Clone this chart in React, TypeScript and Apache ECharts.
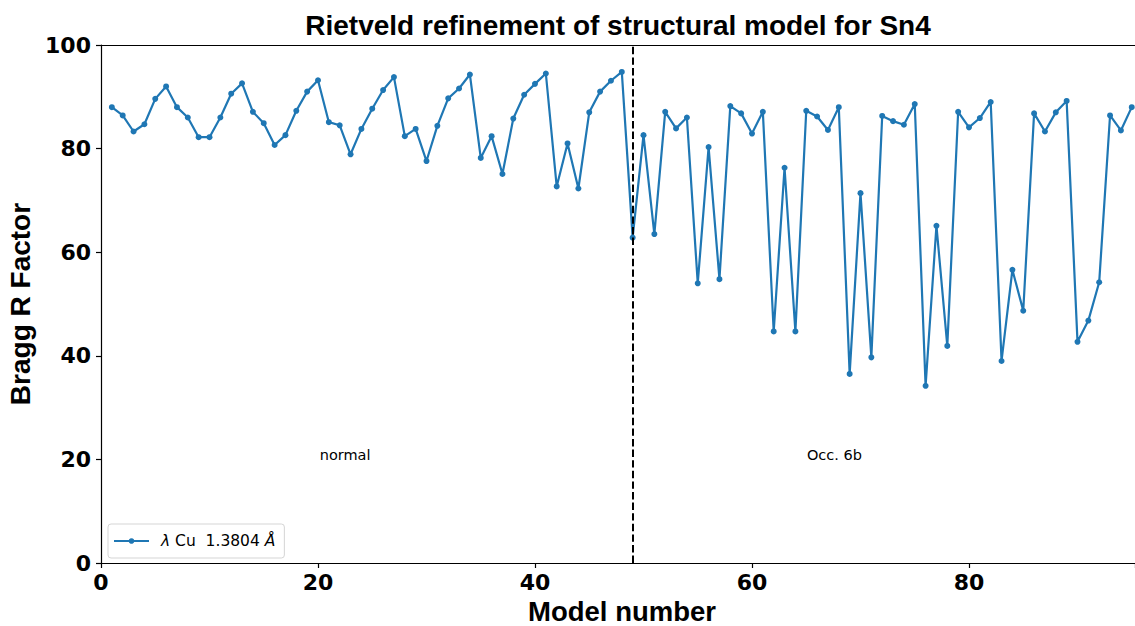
import React, { useEffect, useRef } from "react";
import * as echarts from "echarts";

const modelNumbers: number[] = [
  1, 2, 3, 4, 5, 6, 7, 8, 9, 10, 11, 12, 13, 14, 15, 16, 17, 18, 19, 20,
  21, 22, 23, 24, 25, 26, 27, 28, 29, 30, 31, 32, 33, 34, 35, 36, 37, 38, 39, 40,
  41, 42, 43, 44, 45, 46, 47, 48, 49, 50, 51, 52, 53, 54, 55, 56, 57, 58, 59, 60,
  61, 62, 63, 64, 65, 66, 67, 68, 69, 70, 71, 72, 73, 74, 75, 76, 77, 78, 79, 80,
  81, 82, 83, 84, 85, 86, 87, 88, 89, 90, 91, 92, 93, 94, 95,
];

const braggR: number[] = [
  88.0, 86.4, 83.3, 84.7, 89.6, 92.0, 88.0, 86.0, 82.2, 82.2,
  86.0, 90.6, 92.6, 87.1, 84.9, 80.7, 82.6, 87.3, 91.0, 93.2,
  85.1, 84.5, 78.9, 83.8, 87.7, 91.3, 93.8, 82.4, 83.8, 77.6,
  84.4, 89.7, 91.6, 94.3, 78.2, 82.4, 75.1, 85.8, 90.4, 92.5,
  94.5, 72.7, 81.0, 72.3, 87.0, 91.0, 93.1, 94.8, 62.8, 82.6,
  63.5, 87.1, 83.9, 86.0, 54.0, 80.3, 54.8, 88.2, 86.8, 82.9,
  87.1, 44.7, 76.3, 44.7, 87.3, 86.2, 83.6, 88.0, 36.5, 71.4,
  39.7, 86.3, 85.3, 84.6, 88.6, 34.2, 65.1, 41.9, 87.1, 84.1,
  85.9, 89.0, 39.0, 56.6, 48.7, 86.8, 83.3, 87.0, 89.2, 42.7,
  46.8, 54.2, 86.4, 83.5, 88.0,
];

const xTicks: number[] = [0, 20, 40, 60, 80];
const yTicks: number[] = [0, 20, 40, 60, 80, 100];
const dividerModel = 49;
const regionLabels: { name: string; x: number; y: number }[] = [
  { name: "normal", x: 22.5, y: 20.8 },
  { name: "Occ. 6b", x: 67.6, y: 20.8 },
];

const TITLE = "Rietveld refinement of structural model for Sn4";
const X_NAME = "Model number";
const Y_NAME = "Bragg R Factor";
const SERIES_NAME = "λ Cu 1.3804 Å";

export default function App() {
  const ref = useRef<HTMLDivElement>(null);

  useEffect(() => {
    if (!ref.current) return;
    const chart = echarts.init(ref.current, undefined, { renderer: "svg" });
    const tickFont = {
      fontFamily: "DejaVu Sans",
      fontWeight: "bold" as const,
      fontSize: 22,
      color: "#000",
    };
    const nameFont = {
      fontFamily: "Liberation Sans",
      fontWeight: "bold" as const,
      fontSize: 28,
      color: "#000",
    };
    chart.setOption({
      animation: false,
      backgroundColor: "#fff",
      graphic: [
        {
          type: "text",
          x: 618,
          y: 25,
          style: {
            text: TITLE,
            textAlign: "center",
            textVerticalAlign: "middle",
            fontFamily: "Liberation Sans",
            fontWeight: "bold",
            fontSize: 28,
            fill: "#000",
          },
        },
      ],
      grid: {
        left: 101,
        top: 45,
        width: 1034,
        height: 518,
        containLabel: false,
        outerBoundsMode: "none",
      },
      legend: {
        left: 108,
        top: 524,
        data: [SERIES_NAME],
        itemWidth: 35,
        itemHeight: 7,
        padding: [9, 9, 9, 5],
        borderColor: "#d5d5d5",
        borderWidth: 1,
        borderRadius: 3,
        backgroundColor: "#fff",
        formatter: () => "{i|λ} Cu  1.3804 {i|Å}",
        textStyle: {
          fontFamily: "DejaVu Sans",
          fontSize: 15.5,
          color: "#000",
          padding: [0, 0, 0, 7],
          rich: {
            i: { fontStyle: "italic", fontFamily: "DejaVu Sans", fontSize: 15.5, color: "#000" },
          },
        },
      },
      xAxis: [
        {
          type: "value",
          min: xTicks[0],
          max: 95.3,
          interval: 20,
          name: X_NAME,
          nameLocation: "middle",
          nameGap: 33,
          nameTextStyle: { ...nameFont, fontSize: 27.5, lineHeight: 28, padding: [0, 0, 0, 8] },
          axisLine: { show: true, onZero: false, lineStyle: { color: "#000", width: 1.2 } },
          axisTick: { show: true, length: 5, lineStyle: { color: "#000", width: 1.2 } },
          axisLabel: {
            ...tickFont,
            margin: 8,
            formatter: (v: number) => (xTicks.includes(v) ? String(v) : ""),
          },
          splitLine: { show: false },
        },
        {
          type: "value",
          position: "top",
          min: xTicks[0],
          max: 95.3,
          interval: 20,
          axisLine: { show: true, onZero: false, lineStyle: { color: "#000", width: 1.2 } },
          axisTick: { show: false },
          axisLabel: { show: false },
          splitLine: { show: false },
        },
      ],
      yAxis: {
        type: "value",
        min: yTicks[0],
        max: yTicks[yTicks.length - 1],
        interval: 20,
        name: Y_NAME,
        nameLocation: "middle",
        nameGap: 66,
        nameRotate: 90,
        nameTextStyle: nameFont,
        axisLine: { show: true, onZero: false, lineStyle: { color: "#000", width: 1.2 } },
        axisTick: { show: true, length: 5, lineStyle: { color: "#000", width: 1.2 } },
        axisLabel: { ...tickFont, margin: 10 },
        splitLine: { show: false },
      },
      series: [
        {
          name: SERIES_NAME,
          type: "line",
          data: modelNumbers.map((m, i) => [m, braggR[i]]),
          color: "#1f77b4",
          lineStyle: { width: 2.2, color: "#1f77b4" },
          symbol: "circle",
          symbolSize: 6,
          showSymbol: true,
          clip: true,
          markLine: {
            silent: true,
            symbol: ["none", "none"],
            label: { show: false },
            lineStyle: { type: [7.4, 3.2], color: "#000", width: 2 },
            data: [{ xAxis: dividerModel }],
          },
          markPoint: {
            silent: true,
            symbol: "rect",
            symbolSize: [1, 1],
            itemStyle: { color: "rgba(0,0,0,0)" },
            label: {
              show: true,
              position: "inside",
              formatter: "{b}",
              color: "#000",
              fontFamily: "DejaVu Sans",
              fontSize: 14.5,
            },
            data: regionLabels.map((r) => ({ name: r.name, coord: [r.x, r.y] })),
          },
        },
      ],
    });
    return () => chart.dispose();
  }, []);

  return (
    <div
      ref={ref}
      style={{ position: "absolute", left: 0, top: 0, width: 1135, height: 626, background: "#fff" }}
    />
  );
}
